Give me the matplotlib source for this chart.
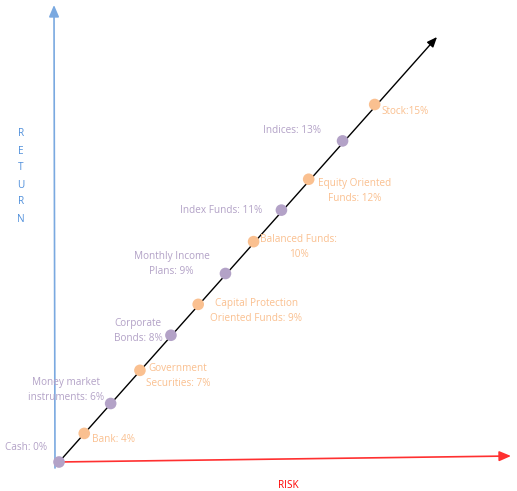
import matplotlib
matplotlib.use("Agg")
import matplotlib.pyplot as plt

# Data
names = ["Cash: 0%", "Bank: 4%", "Money market\ninstruments: 6%", "Government\nSecurities: 7%",
         "Corporate\nBonds: 8%", "Capital Protection\nOriented Funds: 9%", "Monthly Income\nPlans: 9%",
         "Balanced Funds:\n10%", "Index Funds: 11%", "Equity Oriented\nFunds: 12%",
         "Indices: 13%", "Stock:15%"]
returns = [0, 4, 6, 7, 8, 9, 9, 10, 11, 12, 13, 15]
risk_level = [0, 0.88, 1.8, 2.82, 3.9, 4.85, 5.8, 6.78, 7.75, 8.7, 9.88, 11.0]
group = ["p", "o", "p", "o", "p", "o", "p", "o", "p", "o", "p", "o"]

PURPLE = "#b3a2c7"
ORANGE = "#fac090"
colors = {"p": PURPLE, "o": ORANGE}

# label placement (pixel offsets from the marker, alignment)
offsets = [(-12, 14, "right"), (8, -6, "left"), (-45, 13, "center"), (38, -6, "center"),
           (-33, 4, "center"), (58, -7, "center"), (-54, 9, "center"), (45, -5, "center"),
           (-19, 0, "right"), (46, -12, "center"), (-51, 10, "center"), (7, -7, "left")]

W, H = 517, 491
plt.rcParams["font.family"] = ["Open Sans", "DejaVu Sans"]
fig = plt.figure(figsize=(W / 100, H / 100), dpi=100)
ax = fig.add_axes([0, 0, 1, 1])
ax.set_axis_off()

# scale: one risk unit = 28.7 px across, 32.5 px up; origin at pixel (59, 462)
x0, y0, sx, sy = 59, 462, 28.7, 32.5
ax.set_xlim(-x0 / sx, (W - x0) / sx)
ax.set_ylim(-(H - y0) / sy, y0 / sy)


def px(x, y):
    # top-left pixel -> figure pixels
    return (x, H - y)


# axes arrows
ax.annotate("", xy=px(54, 5), xytext=px(55, 468), xycoords="figure pixels",
            arrowprops=dict(arrowstyle="-|>,head_length=0.7,head_width=0.3",
                            color="#7aa9e0", lw=1.2, shrinkA=0, shrinkB=0))
ax.annotate("", xy=px(511, 456), xytext=px(58, 462), xycoords="figure pixels",
            arrowprops=dict(arrowstyle="-|>,head_length=0.7,head_width=0.3",
                            color="#ff3030", lw=1.2, shrinkA=0, shrinkB=0))
ax.annotate("", xy=px(437, 37), xytext=px(59, 462), xycoords="figure pixels",
            arrowprops=dict(arrowstyle="-|>,head_length=0.6,head_width=0.25",
                            color="black", lw=1.0, shrinkA=0, shrinkB=0))

# axis titles
for i, ch in enumerate("RETURN"):
    fig.text(21 / W, 1 - (134 + 17 * i) / H, ch, color="#4f8fdb", fontsize=7.2,
             ha="center", va="center")
fig.text(288 / W, 1 - 485 / H, "RISK", color="#ff0000", fontsize=7.2,
         ha="center", va="center")

# points and labels
ax.scatter(risk_level, risk_level, s=70, c=[colors[g] for g in group],
           edgecolors="none", zorder=3, clip_on=False)
for name, v, g, (dx, dy, ha) in zip(names, risk_level, group, offsets):
    ax.annotate(name, xy=(v, v), xytext=(dx, dy), textcoords="offset pixels",
                ha=ha, va="center", color=colors[g], fontsize=7.2,
                multialignment="center", linespacing=1.5)

fig.savefig("out.png", dpi=100)
